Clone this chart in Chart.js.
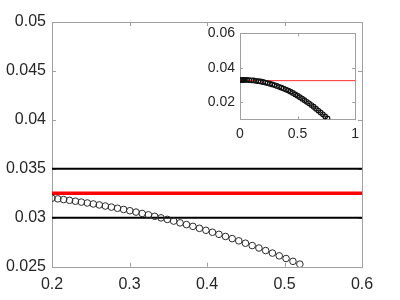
<!DOCTYPE html>
<html lang="en">
<head>
    <meta charset="UTF-8">
    <title>Chart</title>
    <script src="https://cdn.jsdelivr.net/npm/chart.js"></script>
    <style>
        body { margin: 0; background: #ffffff; }
        #wrap { position: relative; width: 400px; height: 300px; }
        #mainChart { position: absolute; left: 0; top: 0; }
        #insetChart { position: absolute; left: 190px; top: 20px; }
    </style>
</head>
<body>
    <div id="wrap">
        <canvas id="mainChart" width="400" height="300"></canvas>
        <canvas id="insetChart" width="175" height="135"></canvas>
    </div>
    <script>
        // main panel: the zoomed part of the curve
        const mainX = [0.2000, 0.2075, 0.2150, 0.2226, 0.2302, 0.2379, 0.2456, 0.2533, 0.2610, 0.2688,
                       0.2767, 0.2845, 0.2924, 0.3004, 0.3084, 0.3164, 0.3244, 0.3325, 0.3406, 0.3488,
                       0.3570, 0.3652, 0.3735, 0.3818, 0.3902, 0.3986, 0.4070, 0.4154, 0.4239, 0.4325,
                       0.4410, 0.4496, 0.4583, 0.4670, 0.4757, 0.4844, 0.4932, 0.5020, 0.5109, 0.5198];
        const mainY = [0.03200, 0.03193, 0.03186, 0.03178, 0.03169, 0.03160, 0.03151, 0.03141, 0.03131, 0.03120,
                       0.03109, 0.03097, 0.03085, 0.03072, 0.03058, 0.03044, 0.03030, 0.03015, 0.02999, 0.02983,
                       0.02966, 0.02948, 0.02930, 0.02912, 0.02892, 0.02872, 0.02852, 0.02831, 0.02809, 0.02787,
                       0.02764, 0.02740, 0.02716, 0.02691, 0.02665, 0.02639, 0.02611, 0.02584, 0.02555, 0.02526];

        // horizontal reference levels
        const blackLevels = [0.035, 0.03];
        const redLevel = 0.0325;

        const xTicks = [0.2, 0.3, 0.4, 0.5, 0.6];
        const yTicks = [0.025, 0.03, 0.035, 0.04, 0.045, 0.05];

        // inset: whole curve
        const insetX = [0, 0.01, 0.02, 0.03, 0.04, 0.06, 0.08, 0.10, 0.12, 0.14, 0.16, 0.18,
                        0.20, 0.22, 0.24, 0.26, 0.28, 0.30, 0.32, 0.34, 0.36, 0.38,
                        0.40, 0.42, 0.44, 0.46, 0.48, 0.50, 0.52, 0.54, 0.56, 0.58,
                        0.60, 0.62, 0.64, 0.66, 0.68, 0.70, 0.72, 0.74, 0.76];
        const insetY = [0.0328, 0.0329, 0.0329, 0.0329, 0.0329, 0.0329, 0.0328, 0.0327, 0.0326, 0.0324, 0.0322, 0.0320,
                        0.0317, 0.0314, 0.0311, 0.0307, 0.0303, 0.0299, 0.0294, 0.0289, 0.0284, 0.0279,
                        0.0273, 0.0267, 0.0261, 0.0253, 0.0245, 0.0237, 0.0229, 0.0220, 0.0211, 0.0202,
                        0.0193, 0.0183, 0.0173, 0.0162, 0.0151, 0.0140, 0.0129, 0.0117, 0.0105];
        const insetXTicks = [0, 0.5, 1];
        const insetYTicks = [0.02, 0.04, 0.06];

        const fmt = v => String(+Number(v).toFixed(4));

        function pts(xs, ys) {
            return xs.map((x, i) => ({ x: x, y: ys[i] }));
        }

        function hline(level, x0, x1) {
            return [{ x: x0, y: level }, { x: x1, y: level }];
        }

        // box round the axes with small ticks pointing inward (matlab look)
        const boxPlugin = {
            id: "box",
            beforeDatasetsDraw(chart, args, opts) {
                const ctx = chart.ctx;
                const a = chart.chartArea;
                const L = opts.len || 4;
                ctx.save();
                ctx.strokeStyle = "#a0a0a0";
                ctx.lineWidth = 1;
                ctx.strokeRect(Math.round(a.left) + 0.5, Math.round(a.top) + 0.5,
                    Math.round(a.right - a.left), Math.round(a.bottom - a.top));
                ctx.beginPath();
                chart.scales.x.ticks.forEach(t => {
                    const px = Math.round(chart.scales.x.getPixelForValue(t.value)) + 0.5;
                    ctx.moveTo(px, a.bottom); ctx.lineTo(px, a.bottom - L);
                    ctx.moveTo(px, a.top); ctx.lineTo(px, a.top + L);
                });
                chart.scales.y.ticks.forEach(t => {
                    const py = Math.round(chart.scales.y.getPixelForValue(t.value)) + 0.5;
                    ctx.moveTo(a.left, py); ctx.lineTo(a.left + L, py);
                    ctx.moveTo(a.right, py); ctx.lineTo(a.right - L, py);
                });
                ctx.stroke();
                ctx.restore();
            }
        };

        function axis(min, max, list, size, isX, fontSize, pad) {
            return {
                type: "linear",
                min: min,
                max: max,
                grid: { display: false, drawTicks: false },
                border: { display: false },
                afterBuildTicks: s => { s.ticks = list.map(v => ({ value: v })); },
                afterFit: s => { if (isX) s.height = size; else s.width = size; },
                ticks: {
                    color: "#262626",
                    padding: pad,
                    autoSkip: false,
                    maxRotation: 0,
                    font: { family: "'Liberation Sans', Arial, sans-serif", size: fontSize },
                    callback: v => fmt(v)
                }
            };
        }

        new Chart(document.getElementById("mainChart"), {
            type: "scatter",
            data: {
                datasets: [
                    {
                        data: pts(mainX, mainY),
                        pointStyle: "circle",
                        pointRadius: 3.3,
                        pointBorderWidth: 1,
                        pointBorderColor: "#2a2a2a",
                        pointBackgroundColor: "rgba(0,0,0,0)"
                    },
                    {
                        data: hline(redLevel, 0.2, 0.6),
                        showLine: true, borderColor: "#ff0000", borderWidth: 3.5, pointRadius: 0
                    },
                    {
                        data: hline(blackLevels[0], 0.2, 0.6),
                        showLine: true, borderColor: "#000000", borderWidth: 2, pointRadius: 0
                    },
                    {
                        data: hline(blackLevels[1], 0.2, 0.6),
                        showLine: true, borderColor: "#000000", borderWidth: 2, pointRadius: 0
                    }
                ]
            },
            options: {
                responsive: false,
                animation: false,
                layout: { padding: { left: 0, right: 38, top: 22, bottom: 0 } },
                plugins: { legend: { display: false }, tooltip: { enabled: false }, box: { len: 4 } },
                scales: {
                    x: axis(0.2, 0.6, xTicks, 33.3, true, 16, 8),
                    y: axis(0.025, 0.05, yTicks, 52, false, 16, 6)
                }
            },
            plugins: [boxPlugin]
        });

        new Chart(document.getElementById("insetChart"), {
            type: "scatter",
            data: {
                datasets: [
                    {
                        data: pts(insetX, insetY),
                        pointStyle: "circle",
                        pointRadius: 2.3,
                        pointBorderWidth: 1.2,
                        pointBorderColor: "#111111",
                        pointBackgroundColor: "rgba(0,0,0,0)"
                    },
                    {
                        data: hline(redLevel, 0, 1),
                        showLine: true, borderColor: "#ff3030", borderWidth: 1, pointRadius: 0
                    }
                ]
            },
            options: {
                responsive: false,
                animation: false,
                layout: { padding: { left: 0, right: 4.3, top: 9, bottom: 0 } },
                plugins: { legend: { display: false }, tooltip: { enabled: false }, box: { len: 3 } },
                scales: {
                    x: axis(0, 1, insetXTicks, 35.7, true, 14, 6),
                    y: axis(0.01, 0.06, insetYTicks, 50, false, 14, 5)
                }
            },
            plugins: [boxPlugin]
        });
    </script>
</body>
</html>
